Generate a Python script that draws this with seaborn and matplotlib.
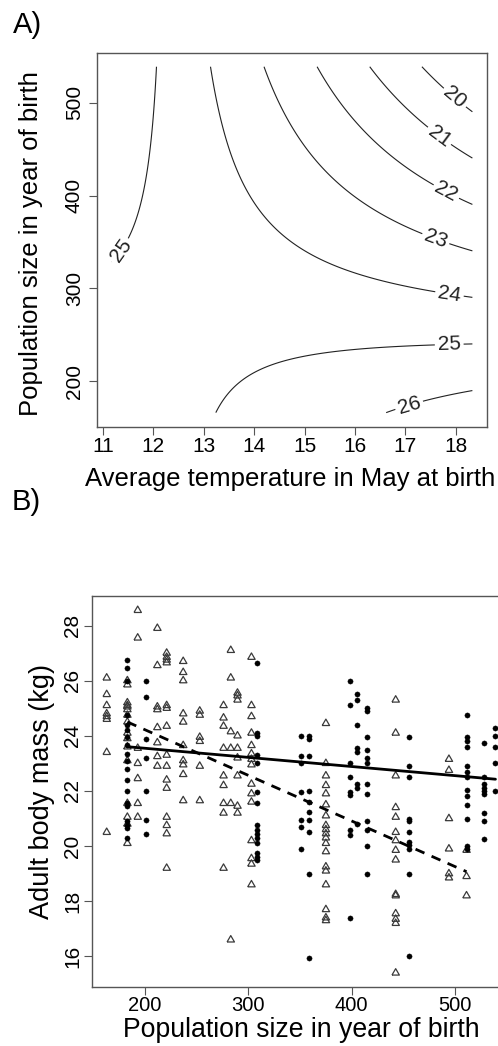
import numpy as np
import pandas as pd
import matplotlib
matplotlib.use("Agg")
import matplotlib.pyplot as plt
import seaborn as sns

sns.set_theme(style="white")
plt.rcParams['font.family'] = ['Liberation Sans', 'DejaVu Sans']
plt.rcParams['text.color'] = 'black'
plt.rcParams['axes.labelcolor'] = 'black'
plt.rcParams['xtick.color'] = 'black'
plt.rcParams['ytick.color'] = 'black'

# ---------------- Panel A: points ----------------
contour_T = [17.34, 17.6, 17.94, 18.33,
             16.29, 16.82, 17.34, 17.67, 18.33,
             15.24, 16.22, 16.88, 17.53, 17.8, 18.33,
             14.17, 14.90, 15.56, 16.06, 17.28, 17.6, 18.33,
             13.1, 13.51, 13.87, 14.25, 14.9, 15.89, 17.48, 17.87, 18.33,
             12.06, 11.94, 11.79, 11.57, 11.37,
             13.2, 13.58, 14.0, 14.9, 16.22, 17.48, 18.33,
             16.68, 17.08, 17.48, 18.33]
contour_N = [539, 525, 503, 492,
             539, 507, 478, 464, 442,
             539, 467, 432, 410, 403, 392,
             539, 467, 432, 396, 360, 353, 342,
             539, 467, 396, 360, 339, 324, 297, 292, 290,
             539, 467, 396, 358, 340,
             167, 188, 210, 227, 235, 239, 240,
             168, 173, 180, 191]
contour_level = [20] * 4 + [21] * 5 + [22] * 6 + [23] * 7 + [24] * 9 + [25] * 5 + [25] * 7 + [26] * 4

contour_levels = [20, 21, 22, 23, 24, 25, 26]
label_T = [17.94, 17.67, 17.8, 17.6, 17.87, 17.87, 17.08, 11.37]
label_N = [503, 464, 403, 353, 292, 240, 173, 340]
temp_range = (11.17, 18.33)
pop_range_A = (166, 539)
temp_ticks = [11, 12, 13, 14, 15, 16, 17, 18]
popA_ticks = [200, 300, 400, 500]

# ---------------- Panel B: scatter data ----------------
tri_cols = [163, 183, 193, 212, 221, 237, 253, 276, 283, 289.5, 303, 375, 442.5, 494, 511]
tri_vals = [
    [26.1, 25.5, 25.1, 24.8, 24.7, 24.6, 23.4, 20.5],
    [26.0, 25.85, 25.2, 25.1, 25.05, 24.95, 24.75, 24.5, 24.1, 23.9, 23.6, 23.1, 21.55, 21.05, 20.8, 20.1],
    [28.55, 27.55, 23.55, 23.0, 22.45, 21.55, 21.05],
    [27.9, 26.55, 25.05, 24.95, 24.3, 23.75, 23.25, 22.9],
    [27.0, 26.85, 26.75, 26.65, 25.1, 25.0, 24.35, 23.3, 22.9, 22.4, 22.1, 21.05, 20.75, 20.45, 19.2],
    [26.7, 26.3, 26.0, 24.8, 24.5, 23.65, 23.1, 22.95, 22.6, 21.65],
    [24.9, 24.75, 23.95, 23.8, 22.9, 21.65],
    [25.1, 24.65, 24.35, 23.55, 22.55, 22.2, 21.55, 21.2, 19.2],
    [27.1, 26.1, 24.15, 23.55, 21.55, 16.6],
    [25.55, 25.45, 25.3, 24.0, 23.55, 23.2, 22.55, 21.45, 21.2],
    [26.85, 25.1, 24.7, 24.1, 23.65, 23.35, 23.15, 22.95, 22.25, 21.9, 21.6, 20.2, 19.55, 19.35, 18.6],
    [24.45, 23.0, 22.55, 22.2, 21.9, 21.5, 21.1, 20.75, 20.6, 20.45, 20.3, 20.1, 19.8, 19.25, 19.1, 18.6, 17.7, 17.4, 17.3],
    [25.3, 24.1, 22.55, 21.4, 21.05, 20.5, 20.2, 19.85, 19.5, 18.25, 18.2, 17.55, 17.35, 17.2, 15.4],
    [23.15, 22.75, 21.0, 19.9, 19.0, 18.85],
    [19.85, 18.9, 18.2],
]
dot_cols = [183, 201, 308.5, 351, 359, 398, 405.5, 415, 455.5, 511, 528, 539]
dot_vals = [
    [26.75, 26.45, 26.0, 24.75, 24.4, 24.2, 23.95, 23.65, 23.35, 23.1, 22.8, 22.4, 22.0, 21.55, 21.45, 20.9, 20.75, 20.65, 20.3],
    [26.0, 25.4, 23.9, 23.2, 22.0, 20.95, 20.45],
    [26.65, 24.1, 24.0, 23.3, 23.0, 21.95, 21.55, 20.75, 20.6, 20.45, 20.3, 20.1, 19.75, 19.6, 19.5],
    [24.0, 23.25, 23.0, 21.95, 20.95, 20.7, 19.9],
    [24.0, 23.9, 23.25, 22.0, 21.6, 21.25, 20.95, 20.5, 19.0, 15.95],
    [26.0, 25.1, 23.0, 22.5, 21.95, 21.85, 20.6, 20.4, 17.4],
    [25.5, 25.3, 24.4, 23.55, 23.4, 22.25, 22.1, 20.8],
    [25.0, 24.9, 23.95, 23.5, 23.2, 23.0, 22.25, 21.9, 20.9, 20.6, 20.0, 19.0],
    [23.95, 22.9, 22.5, 21.0, 20.9, 20.5, 20.15, 20.05, 19.9, 19.0, 16.0],
    [24.75, 23.95, 23.8, 23.6, 22.9, 22.7, 22.5, 22.05, 21.8, 21.5, 21.0, 20.0, 19.9],
    [23.75, 22.5, 22.25, 22.1, 22.0, 21.9, 21.2, 20.9, 20.25],
    [24.3, 24.0, 23.6, 23.0, 22.0],
]
# fitted regression lines
solid_intercept, solid_slope, solid_x = 24.21, -0.00331, (183, 539)
dashed_intercept, dashed_slope, dashed_x = 27.53, -0.01655, (183, 511)
popB_ticks = [200, 300, 400, 500]
mass_ticks = [16, 18, 20, 22, 24, 26, 28]

W, H = 498, 1046
fig = plt.figure(figsize=(W / 100, H / 100), dpi=100)
SPINE = '#555555'

def box(l, t, r, b):
    return [l / W, 1 - b / H, (r - l) / W, (b - t) / H]

# ---------------- Panel A ----------------
axA = fig.add_axes(box(97, 53, 487, 427))
Tp = np.array(contour_T); Np = np.array(contour_N); Lp = np.array(contour_level, float)

def basis(T, N):
    t = T - 15.0
    n = (N - 350.0) / 100.0
    return np.stack([np.ones_like(t), t, n, t * n, t ** 2, n ** 2], axis=-1)

coef, *_ = np.linalg.lstsq(basis(Tp, Np), Lp, rcond=None)
TT, NN = np.meshgrid(np.linspace(*temp_range, 300), np.linspace(*pop_range_A, 300))
ZZ = basis(TT, NN) @ coef
cs = axA.contour(TT, NN, ZZ, levels=contour_levels, colors='#222222', linewidths=0.8)
axA.clabel(cs, manual=list(zip(label_T, label_N)), inline=True, fmt='%d',
           fontsize=15, inline_spacing=4)
axA.set_xlim(10.88, 18.62)
axA.set_ylim(150.5, 553.8)
axA.set_xticks(temp_ticks)
axA.set_yticks(popA_ticks)
axA.set_xlabel('Average temperature in May at birth', fontsize=18.5)
axA.set_ylabel('Population size in year of birth', fontsize=18.5)
axA.xaxis.label.set_va('baseline')
axA.yaxis.label.set_va('baseline')
axA.xaxis.set_label_coords(0.494, -(486 - 427) / 374)
axA.yaxis.set_label_coords((38 - 97) / 390, 0.4906)
axA.tick_params(axis='x', length=5.5, width=0.8, color=SPINE, pad=1.5, labelsize=15, direction='out', bottom=True)
axA.tick_params(axis='y', length=5.5, width=0.8, color=SPINE, pad=4, labelsize=15, direction='out', left=True)
for lbl in axA.get_yticklabels():
    lbl.set_rotation(90); lbl.set_va('center')
for s in axA.spines.values():
    s.set_color(SPINE); s.set_linewidth(1.0)

# ---------------- Panel B ----------------
axB = fig.add_axes(box(92, 596, 512, 987))
tri_df = pd.DataFrame({'pop': np.repeat(tri_cols, [len(v) for v in tri_vals]),
                       'mass': np.concatenate(tri_vals)})
dot_df = pd.DataFrame({'pop': np.repeat(dot_cols, [len(v) for v in dot_vals]),
                       'mass': np.concatenate(dot_vals)})
tri_marker = [(-1, -0.577), (1, -0.577), (0, 1.155), (-1, -0.577)]
sns.scatterplot(data=tri_df, x='pop', y='mass', ax=axB, marker=tri_marker, s=38,
                facecolor='none', edgecolor='#3a3a3a', linewidth=0.9, zorder=3)
sns.scatterplot(data=dot_df, x='pop', y='mass', ax=axB, marker='o', s=14,
                color='black', edgecolor='black', linewidth=0.3, zorder=3)
sx = np.array(solid_x, float)
dx = np.array(dashed_x, float)
line_df = pd.DataFrame({'pop': np.concatenate([sx, dx]),
                        'mass': np.concatenate([solid_intercept + solid_slope * sx,
                                                dashed_intercept + dashed_slope * dx]),
                        'grp': ['solid'] * 2 + ['dashed'] * 2})
sns.lineplot(data=line_df[line_df.grp == 'solid'], x='pop', y='mass', ax=axB,
             color='black', linewidth=2.0, zorder=4)
sns.lineplot(data=line_df[line_df.grp == 'dashed'], x='pop', y='mass', ax=axB,
             color='black', linewidth=2.0, zorder=4)
axB.lines[-1].set_dashes([3.5, 2.8])
axB.set_xlim(148.8, 555)
axB.set_ylim(14.89, 29.07)
axB.set_xticks(popB_ticks)
axB.set_yticks(mass_ticks)
axB.set_xlabel('Population size in year of birth', fontsize=19.2)
axB.set_ylabel('Adult body mass (kg)', fontsize=19.5)
axB.xaxis.label.set_va('baseline')
axB.yaxis.label.set_va('baseline')
axB.xaxis.set_label_coords((301.5 - 92) / 420, -(1037 - 987) / 391)
axB.yaxis.set_label_coords((49 - 92) / 420, 0.5)
axB.tick_params(axis='x', length=5.5, width=0.8, color=SPINE, pad=1.0, labelsize=14.5, direction='out', bottom=True)
axB.tick_params(axis='y', length=5.5, width=0.8, color=SPINE, pad=1.7, labelsize=15, direction='out', left=True)
for lbl in axB.get_yticklabels():
    lbl.set_rotation(90); lbl.set_va('center')
for s in axB.spines.values():
    s.set_color(SPINE); s.set_linewidth(1.0)

fig.text(13 / W, 1 - 33 / H, 'A)', fontsize=21, va='baseline', ha='left')
fig.text(12 / W, 1 - 510 / H, 'B)', fontsize=21, va='baseline', ha='left')

fig.savefig('out.png', dpi=100)
